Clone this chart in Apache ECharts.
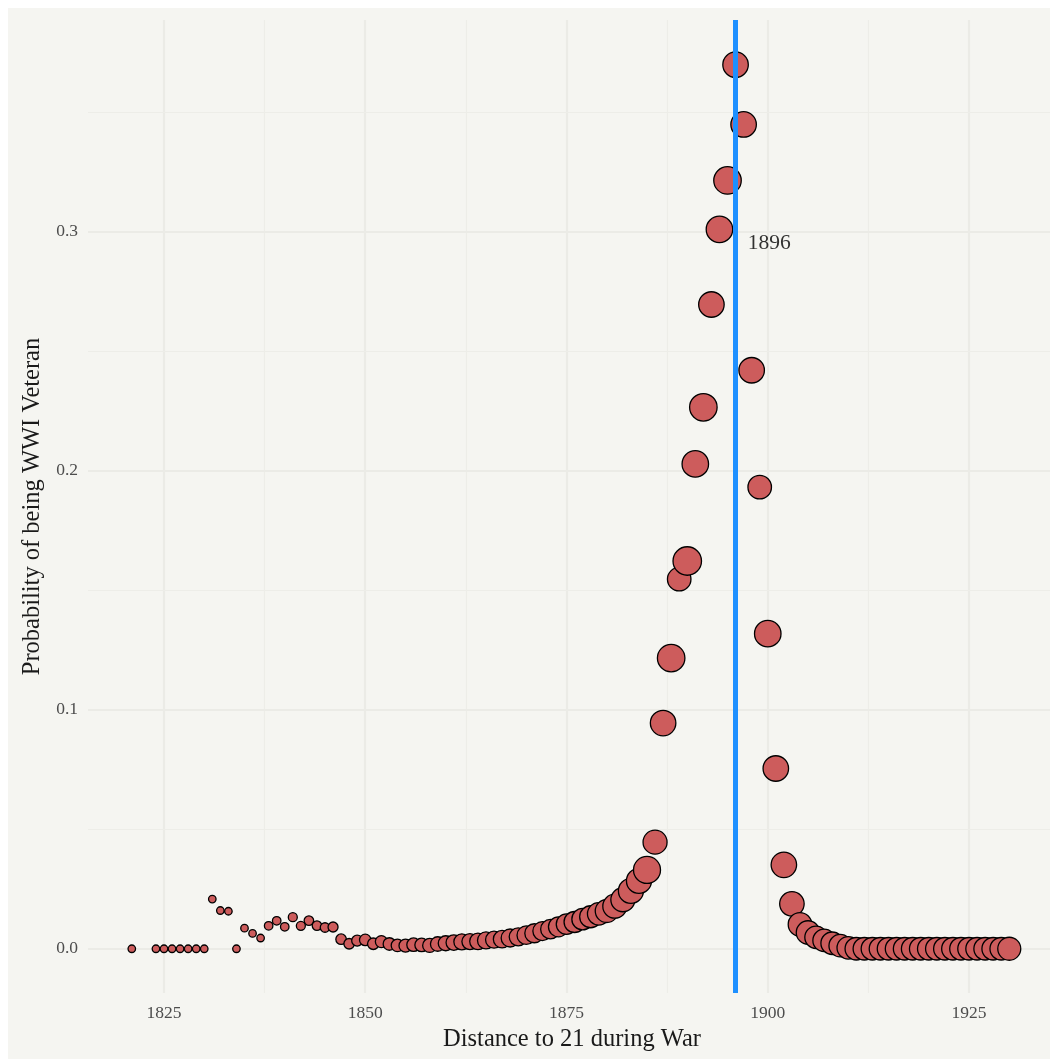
<!DOCTYPE html>
<html>
<head>
<meta charset="utf-8">
<script src="https://cdn.jsdelivr.net/npm/echarts@6/dist/echarts.min.js"></script>
<style>
html,body{margin:0;padding:0;background:#ffffff;}
#chart{width:1050px;height:1059px;}
</style>
</head>
<body>
<div id="chart"></div>
<script>
// Birth year (x)
const years = [1821,1824,1825,1826,1827,1828,1829,1830,1831,1832,1833,1834,1835,1836,1837,1838,1839,1840,
  1841,1842,1843,1844,1845,1846,1847,1848,1849,1850,1851,1852,1853,1854,1855,1856,1857,1858,1859,1860,
  1861,1862,1863,1864,1865,1866,1867,1868,1869,1870,1871,1872,1873,1874,1875,1876,1877,1878,1879,1880,
  1881,1882,1883,1884,1885,1886,1887,1888,1889,1890,1891,1892,1893,1894,1895,1896,1897,1898,1899,1900,
  1901,1902,1903,1904,1905,1906,1907,1908,1909,1910,1911,1912,1913,1914,1915,1916,1917,1918,1919,1920,
  1921,1922,1923,1924,1925,1926,1927,1928,1929,1930];
// Probability of being WWI veteran (y)
const probs = [0,0,0,0,0,0,0,0,0.0208,0.016,0.0157,0,0.0086,0.0064,0.0045,0.0096,0.0117,0.0092,
  0.0132,0.0096,0.0118,0.0097,0.0089,0.0091,0.004,0.0021,0.0034,0.0037,0.0021,0.003,0.002,0.0014,0.0013,0.0017,0.0016,0.0014,0.002,0.0023,
  0.0026,0.0029,0.003,0.0031,0.0035,0.0038,0.004,0.0045,0.005,0.0057,0.0065,0.0074,0.0082,0.0092,0.0103,0.0112,0.0124,0.0134,0.0146,0.0158,
  0.0178,0.0205,0.0242,0.0284,0.033,0.0446,0.0944,0.1216,0.1546,0.1622,0.2028,0.2265,0.2695,0.3009,0.3214,0.3698,0.3448,0.242,0.1931,0.1318,
  0.0754,0.0351,0.0188,0.0102,0.0068,0.0048,0.0035,0.0023,0.0013,0.0004,0,0,0,0,0,0,0,0,0,0,
  0,0,0,0,0,0,0,0,0,0];
// Relative point size (sample weight)
const weights = [7.5,7.5,7.5,7.5,7.5,7.5,7.5,7.5,7.5,7.5,7.5,7.5,7.5,7.5,7.5,8.5,8.5,8.5,
  9,9,9.5,9.5,9.5,10,10.5,10.5,11,11.5,11.5,12,12.5,12.5,13,13.5,13.5,14,14.5,15,
  15.5,16,16,16.5,17,17,17.5,18,18,18.5,19,19,19.5,20,20.5,21,21.5,22,22.5,23,
  24,24,25,25,27,24,25.5,27.5,23.5,28.5,26.5,27.5,25.5,26.5,27.5,25.5,25.5,25.5,23.5,26.5,
  25.5,25.5,24.5,23.5,23.5,22.5,22.5,22.5,22.5,22.5,22.5,22.5,22.5,22.5,22.5,22.5,22.5,22.5,22.5,22.5,
  22.5,22.5,22.5,22.5,22.5,22.5,22.5,22.5,22.5,23];
// Axis ticks
const xTicks = [1825,1850,1875,1900,1925];
const xMinorTicks = [1837.5,1862.5,1887.5,1912.5];
const yTicks = [0,0.1,0.2,0.3];
const yMinorTicks = [0.05,0.15,0.25,0.35];
// Reference line and annotation
const refYear = [1896];
const annotX = [1900.2];
const annotY = [0.295];
const annotText = ['1896'];

const FONT = '"Liberation Serif", "DejaVu Serif", serif';
const points = years.map((y, i) => [y, probs[i], weights[i]]);

const major = {width: 2.2, color: '#ebebe6', type: 'solid'};
const minor = {width: 1.2, color: '#ededE8', type: 'solid'};
const gridLines = [];
xTicks.forEach(v => gridLines.push({xAxis: v, lineStyle: major}));
xMinorTicks.forEach(v => gridLines.push({xAxis: v, lineStyle: minor}));
yTicks.forEach(v => gridLines.push({yAxis: v, lineStyle: major}));
yMinorTicks.forEach(v => gridLines.push({yAxis: v, lineStyle: minor}));

const chart = echarts.init(document.getElementById('chart'), null, {renderer: 'canvas'});
chart.setOption({
  backgroundColor: '#ffffff',
  animation: false,
  textStyle: {fontFamily: FONT},
  graphic: [{
    type: 'rect', z: -10, silent: true,
    shape: {x: 8, y: 8, width: 1060, height: 1070},
    style: {fill: '#f5f5f1'}
  }],
  grid: {left: 88, top: 20, width: 962, height: 973, containLabel: false},
  xAxis: {
    type: 'value', min: 1815.56, max: 1935.06,
    axisLine: {show: false}, axisTick: {show: false}, splitLine: {show: false},
    axisLabel: {customValues: xTicks, color: '#4d4d4d', fontSize: 17.5, fontFamily: FONT, margin: 11,
      formatter: v => String(v)},
    name: 'Distance to 21 during War', nameLocation: 'middle', nameGap: 33,
    nameTextStyle: {color: '#1a1a1a', fontSize: 24.5, fontFamily: FONT, padding: [0, 0, 0, 6]}
  },
  yAxis: {
    type: 'value', min: -0.0185, max: 0.3885,
    axisLine: {show: false}, axisTick: {show: false}, splitLine: {show: false},
    axisLabel: {customValues: yTicks, color: '#4d4d4d', fontSize: 17.5, fontFamily: FONT, margin: 10,
      formatter: v => v.toFixed(1)},
    name: 'Probability of being WWI Veteran', nameLocation: 'middle', nameGap: 42,
    nameTextStyle: {color: '#1a1a1a', fontSize: 24.5, fontFamily: FONT}
  },
  series: [
    {
      type: 'scatter', data: [], silent: true, z: 1,
      markLine: {silent: true, z: 0, symbol: ['none', 'none'], label: {show: false}, animation: false,
        emphasis: {disabled: true}, data: gridLines}
    },
    {
      type: 'scatter', data: points, z: 3,
      symbolSize: d => d[2],
      itemStyle: {color: '#CD5C5C', borderColor: '#000000', borderWidth: 1.3, opacity: 1}
    },
    {
      type: 'scatter', data: [], silent: true, z: 5,
      markLine: {silent: true, z: 10, symbol: ['none', 'none'], label: {show: false}, animation: false,
        emphasis: {disabled: true},
        data: refYear.map(v => ({xAxis: v, lineStyle: {width: 5, color: '#1E90FF', type: 'solid'}}))}
    },
    {
      type: 'scatter', silent: true, z: 11, symbolSize: 0,
      data: annotX.map((x, i) => ({value: [x, annotY[i]], name: annotText[i]})),
      label: {show: true, position: 'inside', formatter: p => p.name, color: '#000000', fontSize: 21.5, fontFamily: FONT}
    }
  ]
});
</script>
</body>
</html>
